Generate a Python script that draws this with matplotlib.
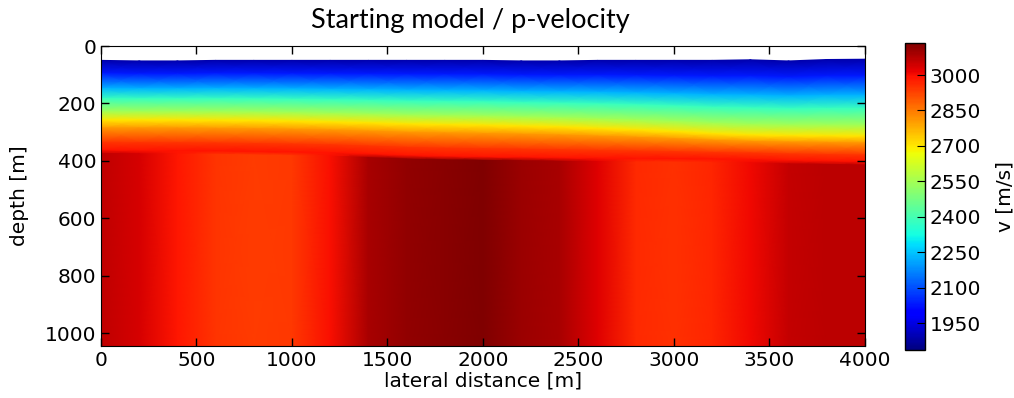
import numpy as np
import matplotlib
matplotlib.use("Agg")
import matplotlib.pyplot as plt

# ---- data ----
x_nodes = [0, 200, 400, 600, 800, 1000, 1200, 1400, 1600, 1800, 2000,
           2200, 2400, 2600, 2800, 3000, 3200, 3400, 3600, 3800, 4000]
# velocity of the deep (lower) layer at each lateral position
deep_v = [3065, 3040, 2985, 2945, 2938, 2940, 2995, 3090, 3112, 3125, 3137,
          3105, 3090, 3030, 2960, 2950, 2965, 3005, 3060, 3068, 3068]
# depth of top of model (surface)
surface_d = [50, 52, 52, 50, 50, 50, 50, 50, 50, 50, 50,
             52, 52, 50, 50, 50, 50, 48, 52, 47, 46]
# depth of the ~2700 m/s (yellow) level
yellow_d = [258, 258, 258, 259, 260, 262, 265, 268, 272, 274, 276,
            279, 282, 287, 292, 298, 305, 310, 312, 313, 314]
# depth of the interface to the deep layer
iface_d = [363, 364, 365, 366, 368, 370, 372, 377, 382, 385, 387,
           388, 390, 391, 392, 393, 394, 395, 399, 401, 403]
# gradient-zone profile: fraction between surface and yellow level, and velocity
upper_frac = [0.0, 0.216, 0.47, 0.64, 0.86, 1.0]
upper_v = [1890, 2030, 2230, 2380, 2550, 2700]
# fraction between yellow level and interface, and velocity
lower_frac = [0.26, 0.74, 1.0]
lower_v = [2810, 2945, 2990]

v_min, v_max = 1836, 3137
max_depth = 1045
blend = 12
cbar_ticks = [1950, 2100, 2250, 2400, 2550, 2700, 2850, 3000]

# ---- build node mesh ----
xs = np.array(x_nodes, float)
sd = np.array(surface_d, float)
yd = np.array(yellow_d, float)
idp = np.array(iface_d, float)
dv = np.array(deep_v, float)

rows_y, rows_c = [], []
for f, v in zip(upper_frac, upper_v):
    rows_y.append(sd + f * (yd - sd))
    rows_c.append(np.full_like(xs, v))
for f, v in zip(lower_frac, lower_v):
    rows_y.append(yd + f * (idp - yd))
    rows_c.append(np.full_like(xs, v))
rows_y.append(idp + blend)
rows_c.append(dv)
rows_y.append(np.full_like(xs, max_depth))
rows_c.append(dv)

Y = np.array(rows_y)
C = np.array(rows_c)
X = np.tile(xs, (len(rows_y), 1))

fig = plt.figure(figsize=(10.14, 3.98), dpi=100)
ax = fig.add_axes([0.0996, 0.1307, 0.7534, 0.7537])
cax = fig.add_axes([0.8925, 0.1206, 0.0197, 0.7721])

mesh = ax.pcolormesh(X, Y, C, cmap="jet", vmin=v_min, vmax=v_max,
                     shading="gouraud")
ax.set_xlim(0, 4000)
ax.set_ylim(max_depth, 0)
ax.set_xticks([0, 500, 1000, 1500, 2000, 2500, 3000, 3500, 4000])
ax.set_yticks([0, 200, 400, 600, 800, 1000])
ax.tick_params(direction="in", top=True, right=True, length=6,
               labelsize=14.5, width=1)
ax.set_xlabel("lateral distance [m]", fontsize=14.5, labelpad=1)
ax.set_ylabel("depth [m]", fontsize=14.5, labelpad=11)

cb = fig.colorbar(mesh, cax=cax, ticks=cbar_ticks)
cb.ax.tick_params(direction="in", length=6, labelsize=14.5)
cb.set_label("v [m/s]", fontsize=14.5, labelpad=10)
cb.outline.set_linewidth(1)

fig.text(0.4635, 0.948, "Starting model / p-velocity", ha="center",
         va="center", fontsize=19.5, family="Lato")

fig.savefig("out.png", dpi=100)
